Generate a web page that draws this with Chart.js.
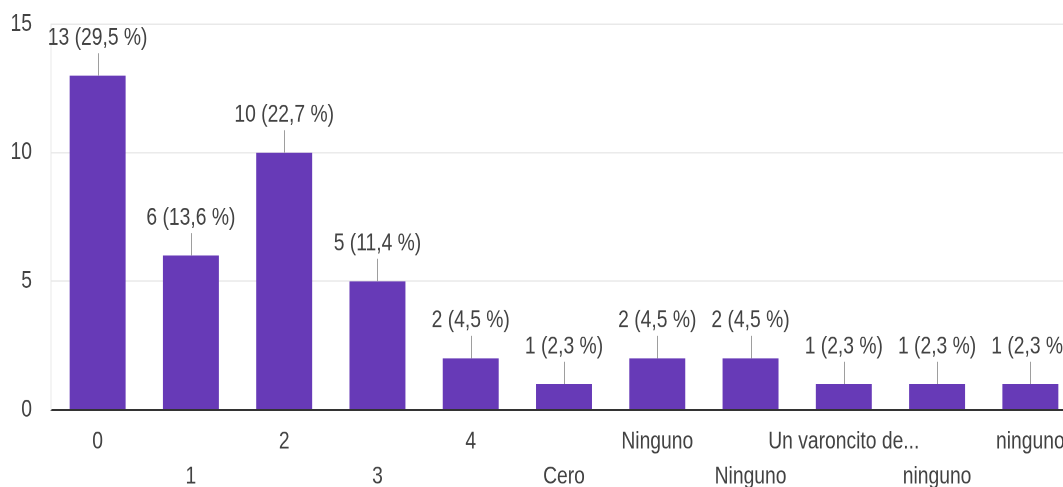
<!DOCTYPE html>
<html>
<head>
<meta charset="utf-8">
<script src="https://cdn.jsdelivr.net/npm/chart.js@4.4.0/dist/chart.umd.min.js"></script>
<style>
html, body { margin: 0; padding: 0; background: #fff; }
#frame { width: 1063px; height: 487px; overflow: hidden; position: relative; }
#wrap { position: absolute; left: 0; top: -13.75px; width: 1080px; height: 401px; transform: scaleY(1.25); transform-origin: 0 0; }
</style>
</head>
<body>
<div id="frame"><div id="wrap"><canvas id="chart"></canvas></div></div>
<script>
// Data
const categories = ['0', '1', '2', '3', '4', 'Cero', 'Ninguno', 'Ninguno', 'Un varoncito de...', 'ninguno', 'ninguno'];
const counts = [13, 6, 10, 5, 2, 1, 2, 2, 1, 1, 1];
const percents = ['29,5', '13,6', '22,7', '11,4', '4,5', '2,3', '4,5', '4,5', '2,3', '2,3', '2,3'];
const yTicks = [0, 5, 10, 15];

const FONT = '"Liberation Sans", Arial, sans-serif';
const FSIZE = 19.3;

// value labels with a small leader line above each bar
const barLabels = {
    id: 'barLabels',
    afterDatasetsDraw(chart) {
        const ctx = chart.ctx;
        const meta = chart.getDatasetMeta(0);
        ctx.save();
        ctx.font = FSIZE + 'px ' + FONT;
        ctx.textAlign = 'center';
        ctx.textBaseline = 'middle';
        meta.data.forEach(function(bar, i) {
            const x = Math.round(bar.x) + 0.5;
            ctx.strokeStyle = '#9e9e9e';
            ctx.lineWidth = 1;
            ctx.beginPath();
            ctx.moveTo(x, bar.y);
            ctx.lineTo(x, bar.y - 18);
            ctx.stroke();
            ctx.fillStyle = '#424242';
            ctx.fillText(counts[i] + ' (' + percents[i] + ' %)', bar.x, bar.y - 30);
        });
        ctx.restore();
    }
};

const ctx = document.getElementById('chart').getContext('2d');
new Chart(ctx, {
    type: 'bar',
    data: {
        labels: categories,
        datasets: [{
            data: counts,
            backgroundColor: '#673ab7',
            borderWidth: 0,
            categoryPercentage: 1,
            barPercentage: 0.6
        }]
    },
    options: {
        responsive: true,
        maintainAspectRatio: false,
        animation: false,
        devicePixelRatio: 2,
        layout: { padding: { top: 0, right: 3, left: 0, bottom: 0 } },
        plugins: {
            legend: { display: false },
            tooltip: { enabled: false }
        },
        scales: {
            x: {
                grid: { display: false, drawTicks: false },
                border: { color: '#333', width: 1.5 },
                afterFit: function(scale) { scale.height = 62; },
                ticks: {
                    autoSkip: false,
                    maxRotation: 0,
                    minRotation: 0,
                    padding: 11.5,
                    color: '#424242',
                    font: { family: FONT, size: FSIZE, lineHeight: 1.45 },
                    callback: function(value, index) {
                        const label = categories[index];
                        return index % 2 === 0 ? [label] : ['', label];
                    }
                }
            },
            y: {
                min: 0,
                max: 15,
                afterBuildTicks: function(scale) {
                    scale.ticks = yTicks.map(function(v) { return { value: v }; });
                },
                afterFit: function(scale) { scale.width = 51; },
                grid: {
                    drawTicks: false,
                    color: function(c) { return c.tick && c.tick.value === 0 ? 'rgba(0,0,0,0)' : '#e8e8e8'; }
                },
                border: { color: '#e8e8e8' },
                ticks: {
                    padding: 19,
                    color: '#424242',
                    font: { family: FONT, size: FSIZE }
                }
            }
        }
    },
    plugins: [barLabels]
});
</script>
</body>
</html>
